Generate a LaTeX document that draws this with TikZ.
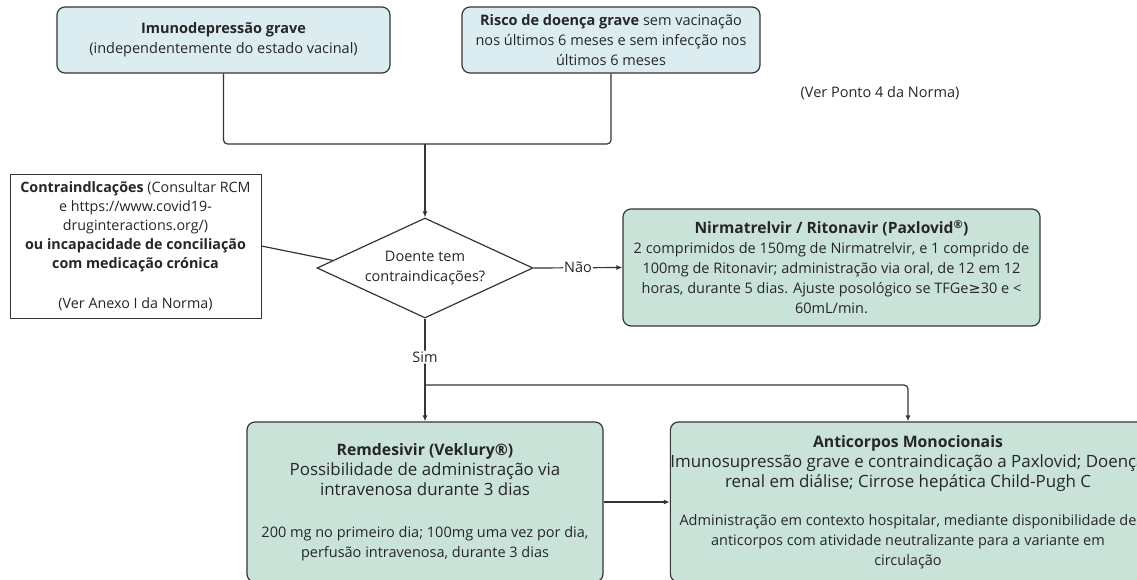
\documentclass[tikz,border=0pt]{standalone}
\usepackage{fontspec}
\setmainfont{Open Sans}
\newfontfamily\dejavu{DejaVu Sans}
\usetikzlibrary{shapes.geometric,arrows.meta,calc,shadows}
\definecolor{bluefill}{HTML}{DCEDF2}
\definecolor{greenfill}{HTML}{CAE3D9}
\definecolor{linec}{HTML}{353535}
\definecolor{textc}{HTML}{262626}
\newcommand\bigln{\fontsize{16.9}{20}\selectfont}
\newcommand\ttlsz{\fontsize{15.8}{20}\selectfont}
\begin{document}
\begin{tikzpicture}[x=1pt,y=-1pt,
  every node/.style={font=\fontsize{14.5}{20}\selectfont, text=textc},
  bluebox/.style={draw=linec, line width=1.2pt, rounded corners=8pt, fill=bluefill, align=center, inner sep=0pt},
  greenbox/.style={draw=linec, line width=1.2pt, rounded corners=8pt, fill=greenfill, align=center, inner sep=0pt},
  plainbox/.style={draw=linec, line width=0.9pt, fill=white, align=center, inner sep=0pt, drop shadow={shadow xshift=1pt, shadow yshift=-1pt, opacity=0.3}},
  decision/.style={diamond, draw=linec, line width=1.2pt, fill=white, align=center, inner sep=0pt, aspect=2.16, minimum width=216pt, minimum height=100pt},
  conn/.style={draw=linec, line width=1.2pt, rounded corners=4pt},
  arr/.style={conn, -{Latex[length=6pt,width=5pt]}},
  lbl/.style={fill=white, inner sep=1pt},
]
\fill[white] (0,0) rectangle (1137,579);
\useasboundingbox (0,0) rectangle (1137,579);

\node[bluebox, minimum width=333pt, minimum height=66pt] (b1) at (223.5,40)
  {\textbf{Imunodepressão grave}\\(independentemente do estado vacinal)};
\node[bluebox, minimum width=298pt, minimum height=66pt] (b2) at (611,40)
  {\textbf{Risco de doença grave} sem vacinação\\nos últimos 6 meses e sem infecção nos\\últimos 6 meses};
\node (note) at (880,93) {(Ver Ponto 4 da Norma)};

\node[plainbox, minimum width=251pt, minimum height=144pt, font=\fontsize{14.3}{19}\selectfont] (contra) at (135.5,246)
  {\textbf{Contraindlcações} (Consultar RCM\\e https://www.covid19-\\druginteractions.org/)\\\textbf{ou incapacidade de conciliação}\\\textbf{com medicação crónica}\\[21pt](Ver Anexo I da Norma)};

\node[decision] (dia) at (425,268) {Doente tem\\contraindicações?};

\node[greenbox, minimum width=417pt, minimum height=117pt] (nir) at (831.5,267.5)
  {\fontsize{15.6}{20}\selectfont\textbf{Nirmatrelvir / Ritonavir (Paxlovid\textsuperscript{\textregistered})}\\2 comprimidos de 150mg de Nirmatrelvir, e 1 comprido de\\100mg de Ritonavir; administração via oral, de 12 em 12\\horas, durante 5 dias. Ajuste posológico se TFGe{\dejavu ≥}30 e <\\60mL/min.};

\node[greenbox, minimum width=356pt, minimum height=160pt] (rem) at (425,502)
  {\ttlsz\textbf{Remdesivir (Veklury\textregistered)}\\\bigln Possibilidade de administração via\\\bigln intravenosa durante 3 dias\\[22pt]200 mg no primeiro dia; 100mg uma vez por dia,\\perfusão intravenosa, durante 3 dias};

\node[greenbox, minimum width=472pt, minimum height=160pt] (anti) at (908,502)
  {\ttlsz\textbf{Anticorpos Monocionais}\\\bigln Imunosupressão grave e contraindicação a Paxlovid; Doença\\\bigln renal em diálise; Cirrose hepática Child-Pugh C\\[18pt]Administração em contexto hospitalar, mediante disponibilidade de\\anticorpos com atividade neutralizante para a variante em\\circulação};

\coordinate (join) at (425,144);
\coordinate (split) at (425,385);

\draw[conn] (b1.south) |- (join);
\draw[conn] (b2.south) |- (join);
\draw[arr] (join) -- (dia.north);
\draw[conn] (contra.east) -- ($(dia.west)!0.15!(dia.north)$);
\draw[arr] (dia.east) -- node[lbl] {Não} (nir.west);
\draw[conn] (dia.south) -- node[lbl, pos=0.58] {Sim} (split);
\draw[arr] (split) -- (rem.north);
\draw[arr] (split) -| (anti.north);
\draw[arr] (rem.east) -- (anti.west);
\end{tikzpicture}
\end{document}
